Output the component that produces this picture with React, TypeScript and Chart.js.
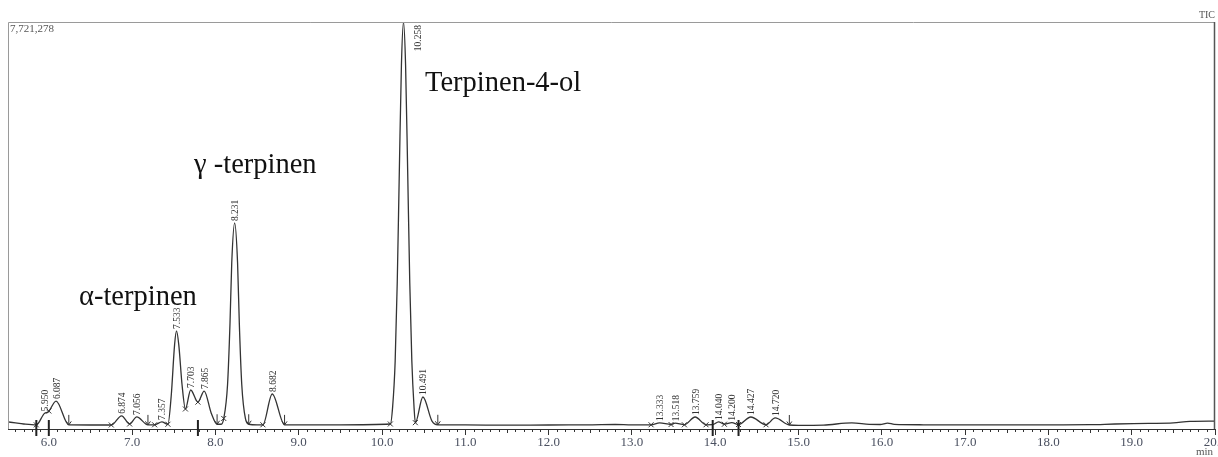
import { useEffect, useRef } from "react";
import { Chart, registerables } from "chart.js";

Chart.register(...registerables);

// Retention time (min) of trace points
const RT: number[] = [
  5.51, 5.6, 5.7, 5.85, 5.95, 5.99, 6.087, 6.24, 6.5, 6.75, 6.874, 6.97, 7.056, 7.19,
  7.27, 7.357, 7.43, 7.47, 7.51, 7.533, 7.56, 7.6, 7.64, 7.703, 7.79, 7.865, 7.95, 8.02,
  8.07, 8.1, 8.146, 8.175, 8.196, 8.231, 8.266, 8.287, 8.316, 8.36, 8.4, 8.5, 8.57,
  8.682, 8.83, 9.5, 10.1, 10.128, 10.158, 10.183, 10.208, 10.233, 10.258, 10.283,
  10.308, 10.333, 10.358, 10.385, 10.4, 10.491, 10.6, 10.67, 11.0, 11.5, 12.0, 12.5,
  12.8, 13.0, 13.23, 13.333, 13.47, 13.518, 13.63, 13.759, 13.89, 13.97, 14.04, 14.11,
  14.2, 14.28, 14.427, 14.61, 14.72, 14.89, 15.0, 15.3, 15.64, 15.85, 15.98, 16.07,
  16.15, 16.5, 17.0, 17.5, 18.0, 18.5, 18.8, 19.2, 19.5, 19.7, 20.0,
];

// TIC intensity (counts) at each retention time
const TIC: number[] = [
  135000, 115000, 95000, 78000, 300000, 320000, 530000, 78000, 76000, 76000, 250000,
  95000, 230000, 78000, 80000, 135000, 90000, 640000, 1600000, 1860000, 1600000, 830000,
  380000, 740000, 510000, 720000, 300000, 90000, 90000, 200000, 850000, 2000000, 3150000,
  3908000, 3150000, 2000000, 850000, 200000, 90000, 80000, 80000, 664000, 78000, 80000,
  95000, 430000, 1290000, 2790000, 4900000, 6900000, 7721278, 6900000, 4900000, 2790000,
  1290000, 400000, 120000, 607000, 150000, 80000, 78000, 72000, 76000, 78000, 85000,
  78000, 80000, 115000, 85000, 110000, 80000, 228000, 80000, 82000, 135000, 90000,
  120000, 85000, 228000, 80000, 210000, 76000, 70000, 75000, 115000, 88000, 85000,
  112000, 88000, 80000, 78000, 80000, 80000, 82000, 95000, 105000, 115000, 145000, 150000,
];

// Integrated peaks: retention-time labels
const PEAK_LABELS: string[] = [
  "5.950", "6.087", "6.874", "7.056", "7.357", "7.533", "7.703", "7.865", "8.231",
  "8.682", "10.258", "10.491", "13.333", "13.518", "13.759", "14.040", "14.200",
  "14.427", "14.720",
];

// Peak start / end markers
const ARROW_RT: number[] = [6.24, 7.19, 8.02, 8.4, 8.83, 10.67, 14.89];
const CROSS_RT: number[] = [
  5.85, 6.0, 6.75, 6.97, 7.27, 7.43, 7.64, 7.79, 8.1, 8.57, 10.1, 10.4, 13.23, 13.47,
  13.63, 13.89, 14.11, 14.28, 14.61,
];
const BAR_RT: number[] = [5.85, 6.0, 7.79, 13.97, 14.28];

const X_TICKS: number[] = [6, 7, 8, 9, 10, 11, 12, 13, 14, 15, 16, 17, 18, 19, 20];
const FULL_SCALE = 7721278;
const FULL_SCALE_LABEL = "7,721,278";
const COMPOUNDS: string[] = ["α-terpinen", "γ -terpinen", "Terpinen-4-ol"];

function traceAt(t: number): number {
  if (t <= RT[0]) return TIC[0];
  for (let i = 1; i < RT.length; i++) {
    if (t <= RT[i]) {
      const f = (t - RT[i - 1]) / (RT[i] - RT[i - 1]);
      return TIC[i - 1] + f * (TIC[i] - TIC[i - 1]);
    }
  }
  return TIC[TIC.length - 1];
}

const decor = {
  id: "decor",
  afterDraw(chart: any) {
    const ctx = chart.ctx as CanvasRenderingContext2D;
    const xs = chart.scales.x;
    const ys = chart.scales.y;
    const a = chart.chartArea;
    ctx.save();

    // frame
    ctx.lineWidth = 1;
    ctx.strokeStyle = "#9a9a9a";
    ctx.beginPath();
    ctx.moveTo(a.left + 0.5, a.bottom);
    ctx.lineTo(a.left + 0.5, a.top + 0.5);
    ctx.lineTo(a.right, a.top + 0.5);
    ctx.stroke();
    ctx.strokeStyle = "#555";
    ctx.lineWidth = 1.5;
    ctx.beginPath();
    ctx.moveTo(a.right - 0.5, a.top);
    ctx.lineTo(a.right - 0.5, a.bottom);
    ctx.stroke();

    // minor ticks every 0.1 min
    ctx.strokeStyle = "#333";
    ctx.lineWidth = 1;
    for (let k = 56; k < 200; k++) {
      if (k % 10 === 0) continue;
      const px = Math.round(xs.getPixelForValue(k / 10)) + 0.5;
      const len = k % 5 === 0 ? 4 : 3;
      ctx.beginPath();
      ctx.moveTo(px, a.bottom);
      ctx.lineTo(px, a.bottom + len);
      ctx.stroke();
    }

    // peak boundary markers
    ctx.strokeStyle = "#333";
    ctx.lineWidth = 1;
    for (const t of ARROW_RT) {
      const px = xs.getPixelForValue(t);
      const py = ys.getPixelForValue(traceAt(t));
      ctx.beginPath();
      ctx.moveTo(px, py - 10);
      ctx.lineTo(px, py);
      ctx.moveTo(px - 2.5, py - 3.5);
      ctx.lineTo(px, py);
      ctx.lineTo(px + 2.5, py - 3.5);
      ctx.stroke();
    }
    for (const t of CROSS_RT) {
      const px = xs.getPixelForValue(t);
      const py = ys.getPixelForValue(traceAt(t));
      ctx.beginPath();
      ctx.moveTo(px - 2.5, py - 2.5);
      ctx.lineTo(px + 2.5, py + 2.5);
      ctx.moveTo(px + 2.5, py - 2.5);
      ctx.lineTo(px - 2.5, py + 2.5);
      ctx.stroke();
    }
    ctx.lineWidth = 2;
    ctx.strokeStyle = "#222";
    for (const t of BAR_RT) {
      const px = xs.getPixelForValue(t);
      ctx.beginPath();
      ctx.moveTo(px, a.bottom - 9);
      ctx.lineTo(px, a.bottom + 7);
      ctx.stroke();
    }

    // rotated retention-time labels
    ctx.fillStyle = "#333";
    ctx.font = "9.5px 'Liberation Serif'";
    ctx.textBaseline = "middle";
    for (const lab of PEAK_LABELS) {
      const t = parseFloat(lab);
      const px = xs.getPixelForValue(t);
      const py = ys.getPixelForValue(traceAt(t));
      const w = ctx.measureText(lab).width;
      let lx = px + 1;
      let bottom = py - 2;
      if (bottom - w < a.top + 2) {
        lx = px + 15;
        bottom = a.top + 3 + w;
      }
      ctx.save();
      ctx.translate(lx, bottom);
      ctx.rotate(-Math.PI / 2);
      ctx.textAlign = "left";
      ctx.fillText(lab, 0, 0);
      ctx.restore();
    }

    // compound names
    ctx.fillStyle = "#111";
    ctx.font = "28.5px 'Liberation Serif'";
    ctx.textAlign = "left";
    ctx.textBaseline = "alphabetic";
    const pos = [
      [79, 305],
      [194, 173],
      [425, 91],
    ];
    COMPOUNDS.forEach((c, i) => ctx.fillText(c, pos[i][0], pos[i][1]));

    // header texts
    ctx.fillStyle = "#555";
    ctx.font = "11px 'Liberation Serif'";
    ctx.textBaseline = "middle";
    ctx.fillText(FULL_SCALE_LABEL, a.left + 2, a.top + 7);
    ctx.font = "10px 'Liberation Serif'";
    ctx.textAlign = "right";
    ctx.fillText("TIC", a.right, a.top - 7);
    ctx.font = "11px 'Liberation Serif'";
    ctx.fillText("min", a.right - 2, a.bottom + 23);

    ctx.restore();
  },
};

export default function App() {
  const ref = useRef<HTMLCanvasElement | null>(null);

  useEffect(() => {
    document.body.style.margin = "0";
    if (!ref.current) return;
    const chart = new Chart(ref.current, {
      type: "line",
      data: {
        datasets: [
          {
            data: RT.map((x, i) => ({ x, y: TIC[i] })),
            borderColor: "#333",
            borderWidth: 1.3,
            pointRadius: 0,
            cubicInterpolationMode: "monotone",
            fill: false,
          },
        ],
      },
      options: {
        animation: false,
        responsive: false,
        maintainAspectRatio: false,
        layout: { padding: { left: 8, right: 3, top: 22, bottom: 0 } },
        plugins: { legend: { display: false }, tooltip: { enabled: false } },
        scales: {
          x: {
            type: "linear",
            min: 5.51,
            max: 20,
            afterBuildTicks: (s: any) => {
              s.ticks = X_TICKS.map((v) => ({ value: v }));
            },
            afterFit: (s: any) => {
              s.height = 28;
              s.paddingLeft = 0;
              s.paddingRight = 0;
            },
            border: { display: true, color: "#333", width: 1 },
            grid: {
              display: true,
              drawOnChartArea: false,
              drawTicks: true,
              tickLength: 6,
              color: "#333",
            },
            ticks: {
              autoSkip: false,
              maxRotation: 0,
              padding: 0,
              color: "#4a5060",
              font: { family: "'Liberation Serif'", size: 13 },
              callback: (v: any) => Number(v).toFixed(1),
            },
          },
          y: { display: false, min: 0, max: FULL_SCALE },
        },
      },
      plugins: [decor],
    } as any);
    return () => chart.destroy();
  }, []);

  return (
    <canvas
      ref={ref}
      width={1218}
      height={457}
      style={{ display: "block", width: 1218, height: 457 }}
    />
  );
}
